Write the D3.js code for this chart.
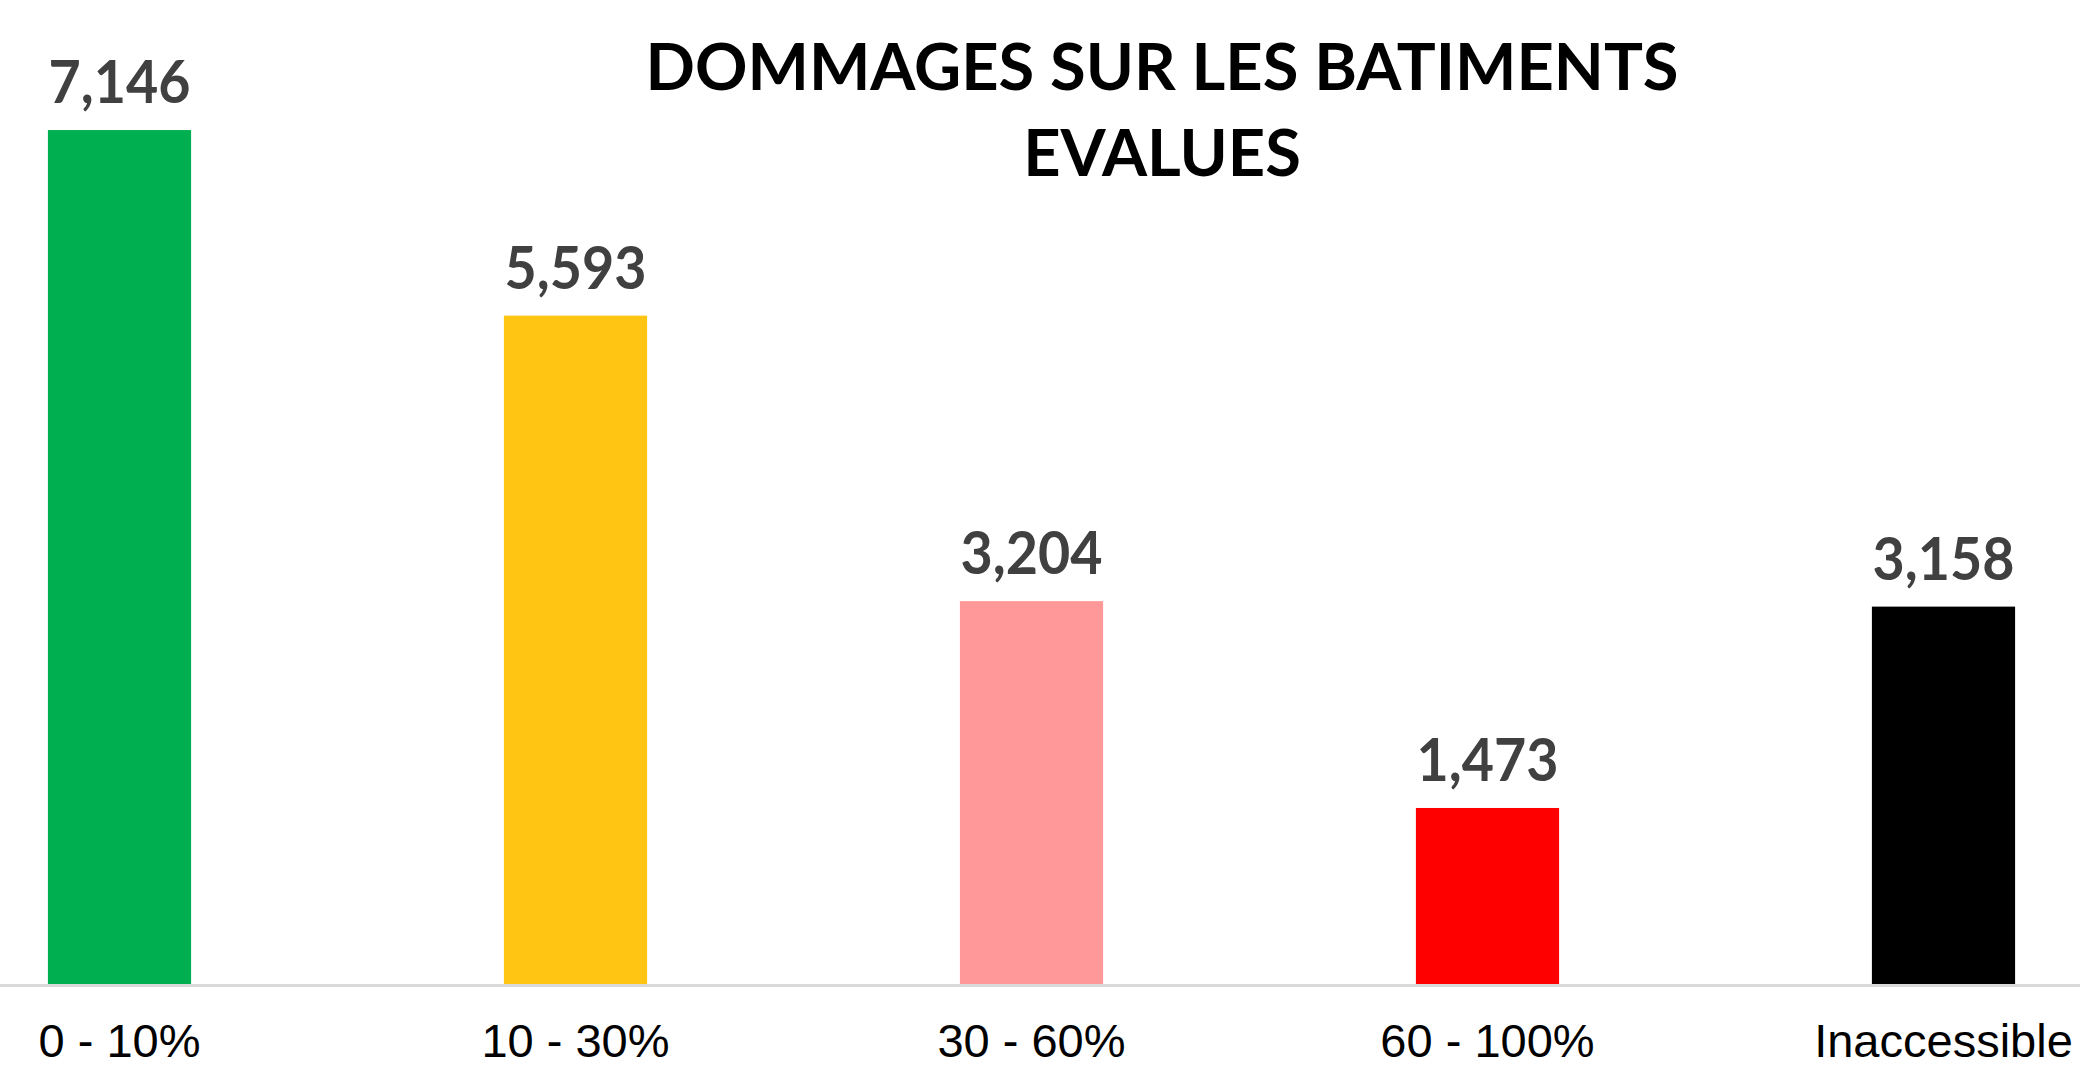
<!DOCTYPE html>
<html>
<head>
<meta charset="utf-8">
<script src="https://cdn.jsdelivr.net/npm/d3@7/dist/d3.min.js"></script>
<style>
  html, body { margin: 0; padding: 0; background: #fff; }
  svg { display: block; }
</style>
</head>
<body>
<svg id="chart" width="2080" height="1068"></svg>
<script>
(() => {

    // Data
    const categories = ['0 - 10%', '10 - 30%', '30 - 60%', '60 - 100%', 'Inaccessible'];
    const values = [7146, 5593, 3204, 1473, 3158];
    const colors = ['#00b050', '#ffc512', '#ff9999', '#ff0000', '#000000'];
    const titleLines = ['DOMMAGES SUR LES BATIMENTS', 'EVALUES'];

    const svg = d3.select('#chart'),
            width = +svg.attr('width'),
            height = +svg.attr('height');

    const rows = categories.map((c, i) => ({ cat: c, value: values[i], color: colors[i] }));

    // Plot area runs a bit past both edges of the picture (cropped chart)
    const x = d3.scaleBand()
            .domain(categories)
            .range([-108.5, 2171.5])
            .paddingInner(0.686)
            .paddingOuter(0.343);

    const y = d3.scaleLinear()
            .domain([0, 8000])
            .range([984, 28]);

    // Bars
    svg.append('g')
            .selectAll('rect')
            .data(rows)
            .enter().append('rect')
            .attr('x', d => x(d.cat))
            .attr('y', d => y(d.value))
            .attr('width', x.bandwidth())
            .attr('height', d => y(0) - y(d.value))
            .attr('fill', d => d.color);

    // Category axis line
    svg.append('line')
            .attr('x1', 0)
            .attr('x2', width)
            .attr('y1', y(0) + 1.5)
            .attr('y2', y(0) + 1.5)
            .attr('stroke', '#d9d9d9')
            .attr('stroke-width', 3);

    // Category labels
    svg.append('g')
            .selectAll('text')
            .data(rows)
            .enter().append('text')
            .attr('x', d => x(d.cat) + x.bandwidth() / 2)
            .attr('y', 1057)
            .attr('text-anchor', 'middle')
            .attr('font-family', '"Liberation Sans", Arial, sans-serif')
            .attr('font-size', 47)
            .attr('fill', '#000')
            .text(d => d.cat);

    // Value labels
    svg.append('g')
            .selectAll('text')
            .data(rows)
            .enter().append('text')
            .attr('x', d => x(d.cat) + x.bandwidth() / 2)
            .attr('y', d => y(d.value) - 27)
            .attr('text-anchor', 'middle')
            .attr('font-family', 'Lato, "Open Sans", sans-serif')
            .attr('font-weight', 700)
            .attr('font-size', 59)
            .attr('textLength', 142)
            .attr('lengthAdjust', 'spacingAndGlyphs')
            .attr('fill', '#404040')
            .text(d => d3.format(',')(d.value));

    // Title
    svg.append('g')
            .selectAll('text')
            .data(titleLines)
            .enter().append('text')
            .attr('x', 1162)
            .attr('y', (d, i) => 90 + i * 86)
            .attr('text-anchor', 'middle')
            .attr('font-family', 'Lato, "Open Sans", sans-serif')
            .attr('font-weight', 700)
            .attr('font-size', 65)
            .attr('fill', '#000')
            .text(d => d);

})();
</script>
</body>
</html>
